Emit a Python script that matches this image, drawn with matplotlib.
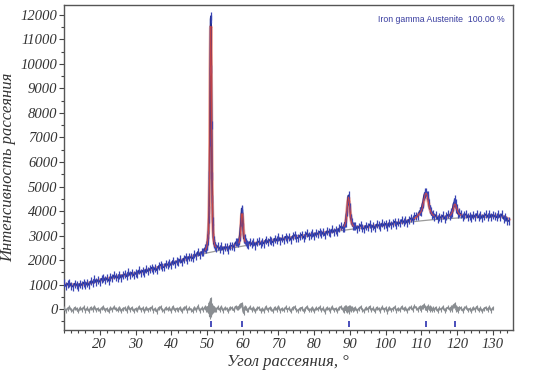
import numpy as np
import matplotlib
matplotlib.use("Agg")
import matplotlib.pyplot as plt
from matplotlib.ticker import MultipleLocator

# ---------------- data ----------------
# scan segments: (start angle, step) ; calculated profile and residual per segment
seg_start = [10.0, 49.7, 52.5, 58.7, 61.5, 88.2, 91.5, 109.7, 113.5, 118.2, 121.0]
seg_step = [0.5, 0.1, 0.5, 0.2, 0.5, 0.2, 0.5, 0.2, 0.5, 0.2, 0.5]

calc_A = [1010, 1005, 1000, 995, 990, 988, 988, 990, 990, 995,
          1005, 1015, 1030, 1045, 1060, 1080, 1100, 1120, 1140, 1160,
          1180, 1195, 1210, 1225, 1240, 1255, 1270, 1285, 1300, 1315,
          1330, 1343, 1356, 1369, 1382, 1395, 1408, 1421, 1434, 1447,
          1460, 1478, 1496, 1514, 1532, 1550, 1568, 1586, 1604, 1622,
          1640, 1662, 1684, 1706, 1728, 1750, 1772, 1794, 1816, 1838,
          1860, 1882, 1904, 1926, 1948, 1970, 1992, 2014, 2051, 2075,
          2100, 2123, 2147, 2173, 2199, 2230, 2261, 2297, 2343, 2409]
calc_B = [2457, 2491, 2535, 2600, 2683, 2796, 2979, 3152, 3555, 4208,
          5211, 7114, 9917, 11470, 11523, 10026, 7329, 5532, 4385, 3638,
          3221, 2964, 2807, 2710, 2643, 2596, 2564]
calc_C = [2535, 2500, 2485, 2480, 2485, 2490, 2498, 2511, 2529, 2552, 2585, 2628, 2691]
calc_D = [2646, 2701, 2806, 3001, 3407, 3882, 3887, 3422, 3027, 2842, 2747, 2702, 2677]
calc_E = [2669, 2667, 2670, 2676, 2683, 2692, 2702, 2712, 2723, 2736,
          2749, 2762, 2775, 2788, 2801, 2814, 2827, 2840, 2851, 2862,
          2873, 2884, 2895, 2906, 2917, 2928, 2939, 2950, 2960, 2970,
          2980, 2990, 3000, 3010, 3020, 3030, 3040, 3050, 3061, 3072,
          3083, 3094, 3105, 3116, 3127, 3140, 3153, 3166, 3182, 3200,
          3220, 3245, 3280, 3330]
calc_F = [3334, 3378, 3442, 3546, 3750, 4064, 4388, 4562, 4396, 4080,
          3774, 3578, 3482, 3426, 3390]
calc_G = [3357, 3346, 3340, 3339, 3341, 3344, 3349, 3355, 3361, 3370,
          3379, 3388, 3397, 3406, 3415, 3424, 3433, 3442, 3451, 3460,
          3469, 3478, 3487, 3504, 3518, 3532, 3546, 3560, 3573, 3591,
          3609, 3632, 3660, 3698, 3746, 3814, 3912]
calc_H = [3925, 3988, 4071, 4174, 4307, 4460, 4603, 4696, 4729, 4682,
          4555, 4398, 4251, 4124, 4027, 3950, 3893, 3856]
calc_I = [3810, 3775, 3755, 3745, 3740, 3740, 3750, 3765, 3790, 3825]
calc_J = [3847, 3889, 3951, 4043, 4155, 4257, 4289, 4241, 4143, 4045, 3967, 3909, 3871]
calc_K = [3843, 3817, 3801, 3790, 3784, 3782, 3780, 3778, 3781, 3784,
          3787, 3790, 3792, 3794, 3796, 3798, 3800, 3801, 3802, 3802,
          3800, 3796, 3790, 3778, 3760, 3735, 3700, 3650]

diff_A = [40, -60, 25, 80, -35, -70, 55, 10, -90, 45,
          -20, 70, -55, 30, -80, 60, -15, 95, -40, 20,
          -65, 35, 75, -50, 15, -95, 50, -25, 85, -10,
          -45, 65, -80, 20, 40, -60, 100, -30, 55, -75,
          10, -50, 90, -20, 35, -85, 60, -40, 25, 70,
          -55, 15, -100, 45, 80, -35, -65, 50, -10, 30,
          -70, 95, -45, 20, -25, 60, -90, 40, 75, -55,
          35, -15, -80, 65, -40, 110, -60, 30, -20, 85]
diff_B = [30, -40, 50, -20, 60, -30, 40, -80, 120, -150, 250, -300, -200, 350,
          420, -250, 180, -120, 100, -60, 70, -40, 30, -50, 40, -30, 20]
diff_C = [-50, 70, -30, 90, -60, 40, 20, -80, 65, 30, -45, 100, 60]
diff_D = [40, 90, 120, 180, 150, 220, 160, -80, -150, 60, 90, 40, -30]
diff_E = [-40, 75, -20, 55, -90, 30, 60, -55, 15, -70,
          90, -35, 45, -10, -80, 65, -25, 100, -60, 20,
          -45, 70, -15, 35, -95, 50, 80, -30, -65, 25,
          55, -75, 10, 95, -40, -20, 60, -85, 40, -10,
          75, -50, 30, -105, 45, 15, -60, 85, -35, 20,
          -70, 50, 90, -25]
diff_F = [30, -60, 80, -40, 100, -90, 60, 80, -120, 70, -50, 40, 60, -30, 20]
diff_G = [40, -65, 20, 85, -30, -75, 55, -15, 95, -45,
          30, -90, 60, 10, -55, 75, -20, 40, -100, 65,
          -35, 15, 80, -60, 25, -40, 90, -10, 50, -70,
          35, 70, -25, 110, 60, -30, 90]
diff_H = [60, -40, 90, 120, 80, 150, 100, 60, 50, -40, 80, 120, 60, -30, 70, 40, -50, 30]
diff_I = [-40, 60, -70, 30, -20, 80, -55, 25, 70, -30]
diff_J = [40, 80, -30, 120, 160, 110, 200, 90, -40, 60, -80, 50, 30]
diff_K = [50, -60, 30, 85, -40, 10, -75, 60, -20, 95, -50, 35, -85, 20,
          65, -30, 80, -55, 40, -15, -60, 70, -35, 90, -80, 40, -110, -50]

bkg_x = [10, 12, 14, 16, 18, 20, 25, 30, 35, 40, 45, 50, 52, 55, 60, 65, 70, 75, 80,
         85, 90, 95, 100, 105, 110, 113, 115, 120, 125, 130, 131, 132, 133, 134, 134.5]
bkg_y = [1010, 990, 990, 1030, 1100, 1180, 1330, 1460, 1640, 1860, 2080, 2290, 2350,
         2440, 2570, 2700, 2830, 2940, 3040, 3150, 3250, 3340, 3430, 3520, 3602, 3645,
         3665, 3715, 3751, 3772, 3770, 3760, 3730, 3670, 3620]

hkl_pos = [51.1, 59.8, 89.6, 111.4, 119.3]
diff_end = 130.0
phase_label = "Iron gamma Austenite  100.00 %"

# ---------------- assemble ----------------
calc_segs = [calc_A, calc_B, calc_C, calc_D, calc_E, calc_F, calc_G, calc_H, calc_I, calc_J, calc_K]
diff_segs = [diff_A, diff_B, diff_C, diff_D, diff_E, diff_F, diff_G, diff_H, diff_I, diff_J, diff_K]
angles, calc, diff = [], [], []
for s0, st, c, d in zip(seg_start, seg_step, calc_segs, diff_segs):
    n = min(len(c), len(d))
    angles.append(s0 + st * np.arange(n))
    calc.append(np.array(c[:n], float))
    diff.append(np.array(d[:n], float))
angles = np.concatenate(angles)
calc = np.concatenate(calc)
diff = np.concatenate(diff)
obs = calc + diff
bkg_at = np.interp(angles, bkg_x, bkg_y)   # only used to decide where the red fit line shows
calc_peaks = np.where(calc - bkg_at > 120, calc, np.nan)

# ---------------- plot ----------------
plt.rcParams['font.family'] = ['Liberation Serif', 'DejaVu Serif']
fig = plt.figure(figsize=(5.5, 3.72), dpi=100)
ax = fig.add_axes([0.1164, 0.1129, 0.8156, 0.8737])

ax.plot(bkg_x, bkg_y, color='#9a9a9a', lw=0.9, zorder=2)
ax.plot(angles, calc, color='#f2a08f', lw=2.4, zorder=3)
ax.plot(angles, obs, color='#25308f', lw=1.2, zorder=4,
        marker='|', ms=5.5, mew=0.9, mec='#3844b4')
ax.plot(angles, calc_peaks, color='#e0473a', lw=0.8, zorder=5, alpha=0.85)

m = angles <= diff_end
ax.plot(angles[m], diff[m], color='#8a8e92', lw=1.3, zorder=3,
        marker='|', ms=3, mew=0.8)

ax.vlines(hkl_pos, -720, -500, color='#3a40b5', lw=1.3, zorder=4)

ax.text(0.983, 0.955, phase_label, transform=ax.transAxes, ha='right', va='center',
        fontsize=6.3, color='#3a3ea0', family=['Liberation Sans', 'DejaVu Sans'])

ax.set_xlim(10, 135.5)
ax.set_ylim(-850, 12400)
ax.xaxis.set_major_locator(MultipleLocator(10))
ax.xaxis.set_minor_locator(MultipleLocator(2))
ax.yaxis.set_major_locator(MultipleLocator(1000))
ax.yaxis.set_minor_locator(MultipleLocator(500))
ax.set_xticks([t for t in range(20, 131, 10)])
ax.set_yticks([t for t in range(0, 12001, 1000)])
ax.tick_params(which='both', direction='out', color='#444', width=0.8,
               top=False, right=False, labelsize=10.5, labelcolor='#333')
ax.tick_params(which='major', length=3.5)
ax.tick_params(axis='y', which='major', pad=1.2)
ax.tick_params(axis='x', which='major', pad=2.5)
ax.tick_params(which='minor', length=2)
for lab in ax.get_xticklabels() + ax.get_yticklabels():
    lab.set_fontstyle('italic')
for sp in ax.spines.values():
    sp.set_color('#555')
    sp.set_linewidth(1.0)

ax.set_xlabel("Угол рассеяния, °", fontsize=12, style='italic', color='#333', labelpad=2)
ax.set_ylabel("Интенсивность рассеяния", fontsize=12, style='italic', color='#333')
ax.yaxis.set_label_coords(-0.106, 0.5)

fig.savefig("out.png", dpi=100)
